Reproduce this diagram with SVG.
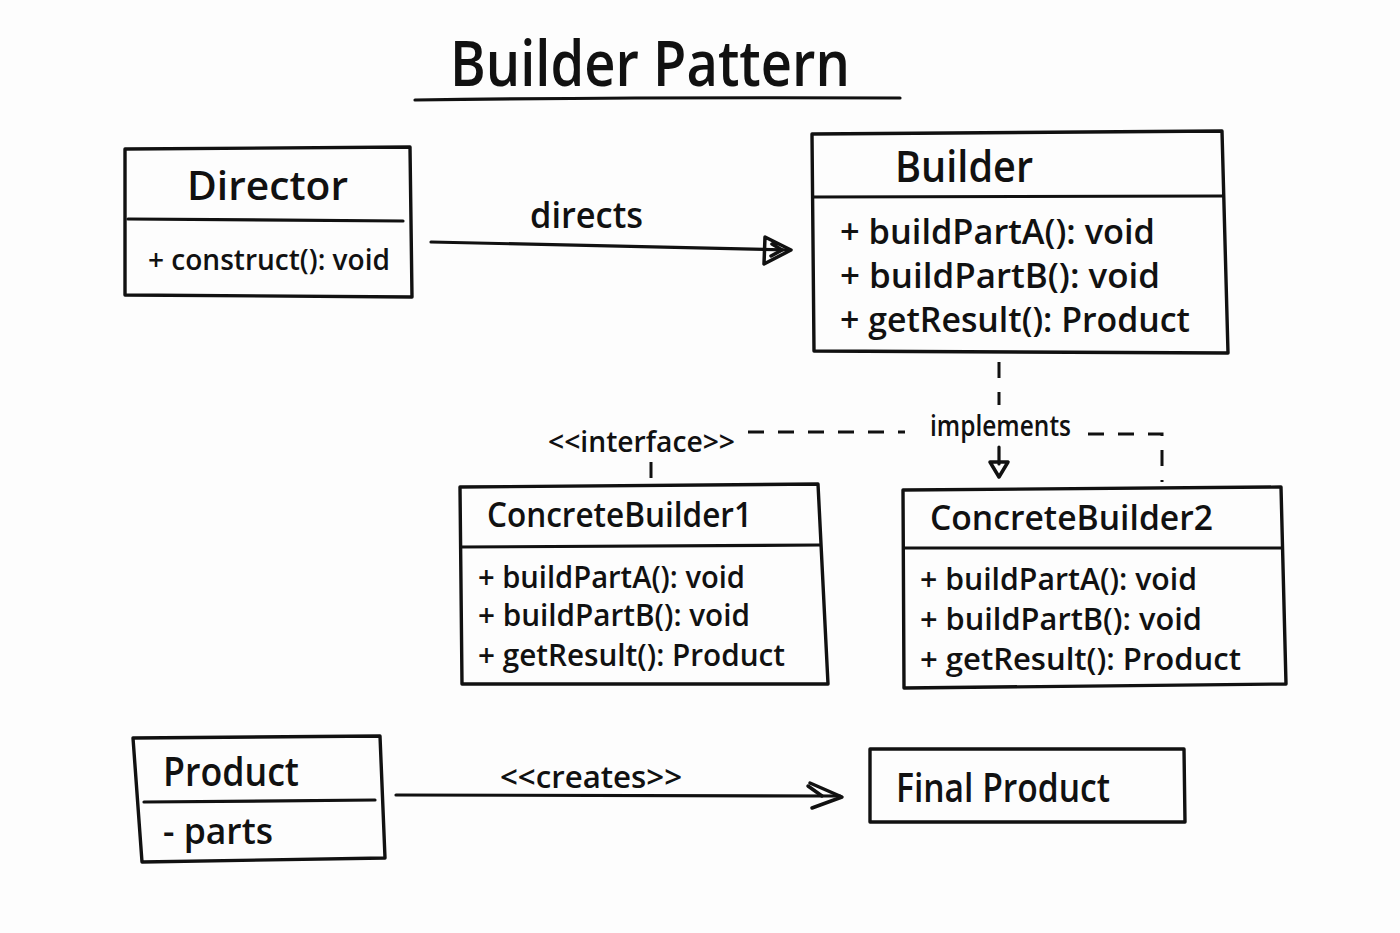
<svg xmlns="http://www.w3.org/2000/svg" width="1400" height="933" viewBox="0 0 1400 933">
<style>
text{font-family:"Open Sans","Liberation Sans",sans-serif;fill:#111;font-weight:600;}
.box{fill:none;stroke:#111;stroke-width:3.4;stroke-linejoin:round;}
.ln{fill:none;stroke:#111;stroke-width:3.2;stroke-linecap:round;}
.dash{fill:none;stroke:#111;stroke-width:3;stroke-dasharray:16 14;}
.ah{fill:none;stroke:#111;stroke-width:3.5;stroke-linejoin:round;stroke-linecap:round;}
</style>
<rect width="1400" height="933" fill="#fdfdfd"/>
<g id="title">
<text x="450" y="86" font-size="64" textLength="400" lengthAdjust="spacingAndGlyphs">Builder Pattern</text>
<path class="ln" d="M415 100 Q650 97 900 98"/>
</g>
<g id="director">
<path class="box" d="M125 149 L410 147 L412 297 L125 295 Z"/>
<path class="ln" d="M128 219 L403 221"/>
<text x="187" y="200" font-size="40" textLength="161" lengthAdjust="spacingAndGlyphs">Director</text>
<text x="148" y="270" font-size="28" textLength="242" lengthAdjust="spacingAndGlyphs">+ construct(): void</text>
</g>
<g id="builder">
<path class="box" d="M812 134 L1222 131 L1228 353 L814 351 Z"/>
<path class="ln" d="M813 197 L1222 196"/>
<text x="895" y="182" font-size="44" textLength="138" lengthAdjust="spacingAndGlyphs">Builder</text>
<text x="840" y="244" font-size="34" textLength="315" lengthAdjust="spacingAndGlyphs">+ buildPartA(): void</text>
<text x="840" y="288" font-size="34" textLength="320" lengthAdjust="spacingAndGlyphs">+ buildPartB(): void</text>
<text x="840" y="332" font-size="34" textLength="350" lengthAdjust="spacingAndGlyphs">+ getResult(): Product</text>
</g>
<g id="cb1">
<path class="box" d="M460 487 L818 484 L828 684 L462 684 Z"/>
<path class="ln" d="M461 547 L820 545"/>
<text x="487" y="527" font-size="34" textLength="265" lengthAdjust="spacingAndGlyphs">ConcreteBuilder1</text>
<text x="478" y="588" font-size="31" textLength="267" lengthAdjust="spacingAndGlyphs">+ buildPartA(): void</text>
<text x="478" y="626" font-size="31" textLength="272" lengthAdjust="spacingAndGlyphs">+ buildPartB(): void</text>
<text x="478" y="666" font-size="31" textLength="307" lengthAdjust="spacingAndGlyphs">+ getResult(): Product</text>
</g>
<g id="cb2">
<path class="box" d="M903 490 L1281 487 L1286 684 L904 688 Z"/>
<path class="ln" d="M904 548 L1282 548"/>
<text x="930" y="530" font-size="34" textLength="283" lengthAdjust="spacingAndGlyphs">ConcreteBuilder2</text>
<text x="920" y="590" font-size="31" textLength="277" lengthAdjust="spacingAndGlyphs">+ buildPartA(): void</text>
<text x="920" y="630" font-size="31" textLength="282" lengthAdjust="spacingAndGlyphs">+ buildPartB(): void</text>
<text x="920" y="670" font-size="31" textLength="321" lengthAdjust="spacingAndGlyphs">+ getResult(): Product</text>
</g>
<g id="product">
<path class="box" d="M133 738 L380 736 L385 858 L142 862 Z"/>
<path class="ln" d="M144 802 L375 800"/>
<text x="163" y="786" font-size="40" textLength="136" lengthAdjust="spacingAndGlyphs">Product</text>
<text x="163" y="844" font-size="36" textLength="110" lengthAdjust="spacingAndGlyphs">- parts</text>
</g>
<g id="finalproduct">
<path class="box" d="M870 749 L1184 749 L1185 822 L870 822 Z"/>
<text x="896" y="802" font-size="40" textLength="214" lengthAdjust="spacingAndGlyphs">Final Product</text>
</g>
<g id="connectors">
<path class="ln" d="M431 242 L790 250"/>
<path class="ah" d="M765 237 L791 250 L764 264 Z M772 244 L782 250 L771 256"/>
<text x="530" y="228" font-size="36" textLength="113" lengthAdjust="spacingAndGlyphs">directs</text>
<path class="dash" d="M999 362 L999 405"/>
<path class="dash" d="M748 432 L905 432"/>
<path class="dash" d="M1088 434 L1162 434 L1162 482"/>
<path class="dash" d="M651 462 L651 482"/>
<path class="ln" d="M999 447 L999 464"/>
<path class="ah" d="M990 462 L999 477 L1008 462 Z"/>
<text x="930" y="436" font-size="28" textLength="141" lengthAdjust="spacingAndGlyphs">implements</text>
<text x="548" y="452" font-size="28" textLength="187" lengthAdjust="spacingAndGlyphs">&lt;&lt;interface&gt;&gt;</text>
<path class="ln" d="M396 795 L840 796"/>
<path class="ah" d="M810 783 L842 797 L812 808 M808 786 L822 796"/>
<text x="500" y="788" font-size="30" textLength="182" lengthAdjust="spacingAndGlyphs">&lt;&lt;creates&gt;&gt;</text>
</g>
</svg>
